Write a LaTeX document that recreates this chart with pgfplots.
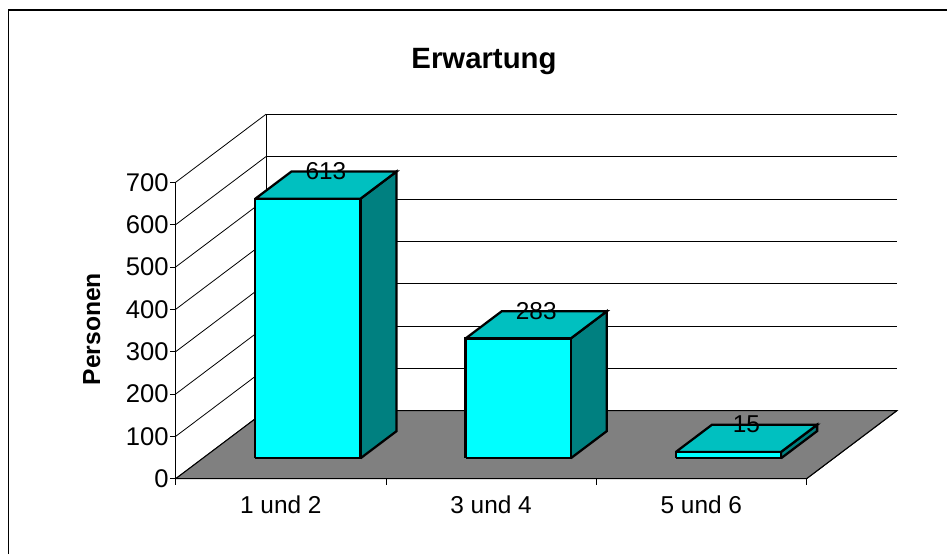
\documentclass[border=0pt]{standalone}
\usepackage{pgfplots}
\pgfplotsset{compat=1.18}
\usepackage{fontspec}
\setmainfont{Liberation Sans}
\definecolor{barfront}{RGB}{0,255,255}
\definecolor{bartop}{RGB}{0,192,192}
\definecolor{barside}{RGB}{0,128,128}
\definecolor{floorgray}{RGB}{128,128,128}
\newcommand\lbl{\fontsize{18.3}{20}\selectfont}

% one bar: left, right, value
\newcommand\cubebar[3]{
  \addplot3[black,line width=1.7pt,line join=miter,fill=barside] coordinates {(#2,0.3,0)(#2,0.7,0)(#2,0.7,#3)(#2,0.3,#3)(#2,0.3,0)};
  \addplot3[black,line width=1.7pt,line join=miter,fill=bartop] coordinates {(#1,0.3,#3)(#2,0.3,#3)(#2,0.7,#3)(#1,0.7,#3)(#1,0.3,#3)};
  \addplot3[black,line width=1.7pt,line join=miter,fill=barfront] coordinates {(#1,0.3,0)(#2,0.3,0)(#2,0.3,#3)(#1,0.3,#3)(#1,0.3,0)};
  \node[font=\lbl,inner sep=0pt,yshift=10.3pt] at (axis cs:#1/2+#2/2,0.5,#3) {#3};
}

\begin{document}
\begin{tikzpicture}[x=0.75pt,y=-0.75pt]
% page and frame, in pixels from the origin of the axis
\useasboundingbox (-175.7,-478.7) rectangle (771.3,75.3);
\draw[line width=0.8pt] (-167.4,75.3) -- (-167.4,-468.7) -- (771.3,-468.7);
\begin{axis}[
  at={(0,0)},
  anchor=origin,
  x={(157.7pt,0pt)},
  y={(67.7pt,51pt)},
  z={(0pt,0.3176pt)},
  clip=false,
  xmin=0,xmax=3,
  ymin=0,ymax=1,
  zmin=0,zmax=700,
  axis lines=left,
  axis line style={-,line width=0.8pt},
  xtick=\empty,
  ytick=\empty,
  ztick={0,100,...,700},
  major tick length=0pt,
  tick style={draw=none},
  z tick label style={font=\fontsize{19.2}{20}\selectfont,anchor=east,xshift=-1.8pt},
  /pgf/number format/assume math mode=true,
  zmajorgrids=true,
  major grid style={black,line width=0.6pt},
]
% floor
\addplot3[black,line width=0.8pt,fill=floorgray] coordinates {(0,0,0)(3,0,0)(3,1,0)(0,1,0)(0,0,0)};
% back corner of the walls
\addplot3[black,line width=0.6pt] coordinates {(0,1,0)(0,1,700)};
% tick marks, square to the axes on the page
\pgfplotsinvokeforeach{0,100,200,300,400,500,600,700}{
  \addplot3[black,line width=0.6pt] coordinates {(0,0,#1)(-0.0285,0,#1)};
}
\pgfplotsinvokeforeach{0,1,2,3}{
  \addplot3[black,line width=0.6pt] coordinates {(#1,0,0)(#1,0,-14)};
}
\cubebar{0.25}{0.75}{613}
\cubebar{1.25}{1.75}{283}
\cubebar{2.25}{2.75}{15}
\node[font=\lbl,yshift=-19.5pt] at (axis cs:0.5,0,0) {1 und 2};
\node[font=\lbl,yshift=-19.5pt] at (axis cs:1.5,0,0) {3 und 4};
\node[font=\lbl,yshift=-19.5pt] at (axis cs:2.5,0,0) {5 und 6};
\end{axis}
\node[font=\bfseries\fontsize{22}{24}\selectfont] at (308.3,-417.5) {Erwartung};
\node[font=\bfseries\fontsize{18.5}{20}\selectfont,rotate=90] at (-84,-149.5) {Personen};
\end{tikzpicture}
\end{document}
